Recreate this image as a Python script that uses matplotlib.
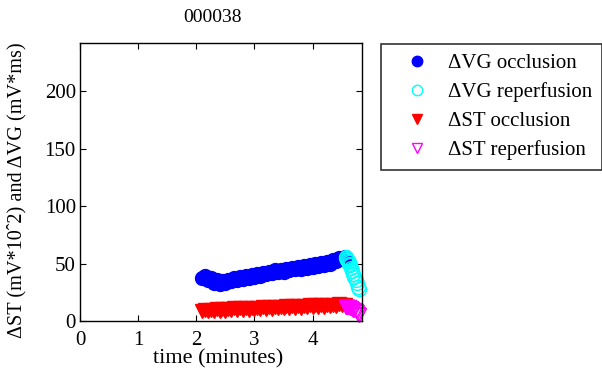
import matplotlib
matplotlib.use("Agg")
import matplotlib.pyplot as plt
from matplotlib.lines import Line2D

plt.rcParams['font.family'] = ['Liberation Serif', 'DejaVu Serif']

title = "000038"
xlabel = "time (minutes)"
ylabel = "\u0394ST (mV*10\u02C62) and \u0394VG (mV*ms)"
xticks = [0, 1, 2, 3, 4]
yticks = [0, 50, 100, 150, 200]

# dVG occlusion
t_occ = [2.10, 2.15, 2.20, 2.25, 2.30, 2.35, 2.40, 2.45, 2.50, 2.55,
         2.60, 2.65, 2.70, 2.75, 2.80, 2.85, 2.90, 2.95, 3.00, 3.05,
         3.10, 3.15, 3.20, 3.25, 3.30, 3.35, 3.40, 3.45, 3.50, 3.55,
         3.60, 3.65, 3.70, 3.75, 3.80, 3.85, 3.90, 3.95, 4.00, 4.05,
         4.10, 4.15, 4.20, 4.25, 4.30, 4.35, 4.40, 4.45, 4.50, 4.55]
vg_occ = [37.5, 39.0, 35.5, 37.0, 33.5, 35.5, 32.5, 35.0, 33.5, 36.0,
          34.5, 37.5, 36.0, 38.0, 36.5, 39.0, 37.5, 40.0, 38.5, 41.0,
          39.5, 42.0, 40.5, 43.0, 41.5, 44.0, 42.5, 44.5, 43.0, 45.5,
          44.0, 46.5, 45.0, 47.0, 45.5, 48.0, 46.5, 49.0, 47.0, 49.5,
          48.0, 50.5, 49.0, 51.5, 50.0, 53.0, 52.0, 55.0, 54.0, 55.5]
# dST occlusion
st_occ = [8.5, 9.5, 8.3, 9.9, 8.5, 10.2, 8.8, 10.4, 9.0, 10.6,
          9.3, 10.9, 9.5, 11.1, 9.7, 11.3, 9.9, 11.5, 10.1, 11.7,
          10.3, 11.9, 10.5, 12.1, 10.7, 12.3, 10.9, 12.5, 11.1, 12.7,
          11.3, 12.9, 11.5, 13.1, 11.7, 13.3, 11.9, 13.5, 12.1, 13.7,
          12.3, 13.9, 12.5, 14.1, 12.7, 14.3, 13.0, 14.5, 13.5, 14.0]

# reperfusion
t_rep = [4.57, 4.58, 4.59, 4.60, 4.61, 4.62, 4.63, 4.64, 4.66, 4.68,
         4.70, 4.72, 4.74, 4.76, 4.78, 4.80]
vg_rep = [56.0, 55.0, 54.0, 53.5, 52.5, 51.5, 50.0, 48.5, 46.0, 43.5,
          41.0, 38.5, 36.0, 33.0, 30.0, 27.5]
st_rep = [12.5, 12.5, 12.4, 12.3, 12.2, 12.0, 11.8, 11.5, 11.0, 10.5,
          10.0, 9.2, 8.4, 7.5, 6.5, 5.5]

labels = ["\u0394VG occlusion", "\u0394VG reperfusion",
          "\u0394ST occlusion", "\u0394ST reperfusion"]

W, H = 602, 370
fig = plt.figure(figsize=(W/100, H/100), dpi=100)
ax = fig.add_axes([80/W, 1-321/H, (362-80)/W, (321-43)/H])

ms = 10
ax.plot(t_occ, vg_occ, 'o', color='#0000ff', mec='#0000ff', ms=ms, clip_on=False)
ax.plot(t_rep, vg_rep, 'o', mfc='none', mec='#00ffff', ms=ms, mew=1.0, clip_on=False)
ax.plot(t_occ, st_occ, 'v', color='#ff0000', mec='#ff0000', ms=ms, clip_on=False)
ax.plot(t_rep, st_rep, 'v', mfc='none', mec='#ff00ff', ms=ms, mew=1.0, clip_on=False)

ax.set_xlim(0, 4.85)
ax.set_ylim(0, 242)
ax.set_xticks(xticks)
ax.set_yticks(yticks)
ax.tick_params(direction='in', length=4, labelsize=15, top=True, right=True)
ax.tick_params(axis='x', pad=7)
ax.tick_params(axis='y', pad=3)
for s in ax.spines.values():
    s.set_linewidth(1.0)

fig.text(213/W, 1-18/H, title, fontsize=14, ha='center', va='center')
fig.text(218/W, 1-359/H, xlabel, fontsize=16, ha='center', va='center')
fig.text(17/W, 1-190/H, ylabel, fontsize=14.6, ha='center', va='center', rotation=90)

handles = [
    Line2D([], [], ls='none', marker='o', color='#0000ff', ms=7.5),
    Line2D([], [], ls='none', marker='o', mfc='none', mec='#00ffff', ms=7.5),
    Line2D([], [], ls='none', marker='v', color='#ff0000', ms=7.5),
    Line2D([], [], ls='none', marker='v', mfc='none', mec='#ff00ff', ms=7.5),
]
leg = fig.legend(handles, labels, loc='upper left',
                 bbox_to_anchor=(381/W, 1-44/H), fontsize=15,
                 frameon=True, fancybox=False, edgecolor='black',
                 borderpad=0.45, labelspacing=0.45, handletextpad=0.21,
                 borderaxespad=0, handlelength=2.55)
leg.get_frame().set_linewidth(1.2)

fig.savefig("out.png", dpi=100)
